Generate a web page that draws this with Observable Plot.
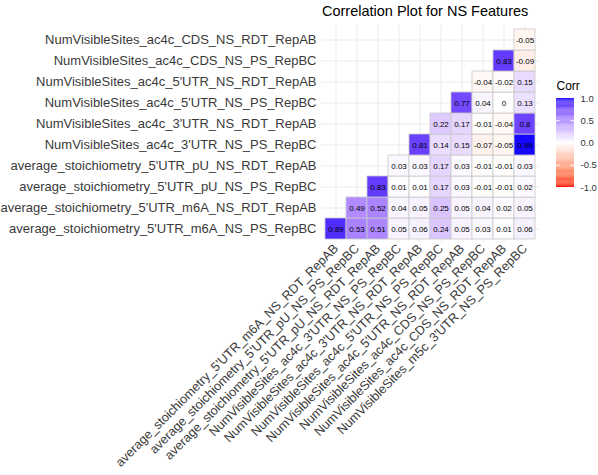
<!DOCTYPE html>
<html>
<head>
<meta charset="utf-8">
<script src="https://cdn.jsdelivr.net/npm/d3@7"></script>
<script src="https://cdn.jsdelivr.net/npm/@observablehq/plot@0.6"></script>
<style>
  body { margin: 0; background: #fff; font-family: "Liberation Sans", Arial, sans-serif; }
  #wrap { position: relative; width: 598px; height: 475px; overflow: hidden; }
  #title { height: 24px; width: 598px; font-size: 14.5px; color: #000; position: relative; }
  #title span { position: absolute; left: 322px; top: 3px; white-space: nowrap; }
  #legend { position: absolute; left: 548px; top: 80px; }
  #legend svg { overflow: visible; }
</style>
</head>
<body>
<div id="wrap">
  <div id="title"><span>Correlation Plot for NS Features</span></div>
  <div id="chart"></div>
  <div id="legend"></div>
</div>
<script>
const colLabels = [
  "average_stoichiometry_5'UTR_m6A_NS_RDT_RepAB",
  "average_stoichiometry_5'UTR_pU_NS_PS_RepBC",
  "average_stoichiometry_5'UTR_pU_NS_RDT_RepAB",
  "NumVisibleSites_ac4c_3'UTR_NS_PS_RepBC",
  "NumVisibleSites_ac4c_3'UTR_NS_RDT_RepAB",
  "NumVisibleSites_ac4c_5'UTR_NS_PS_RepBC",
  "NumVisibleSites_ac4c_5'UTR_NS_RDT_RepAB",
  "NumVisibleSites_ac4c_CDS_NS_PS_RepBC",
  "NumVisibleSites_ac4c_CDS_NS_RDT_RepAB",
  "NumVisibleSites_m5c_3'UTR_NS_PS_RepBC"
];
// bottom to top
const rowLabels = [
  "average_stoichiometry_5'UTR_m6A_NS_PS_RepBC",
  "average_stoichiometry_5'UTR_m6A_NS_RDT_RepAB",
  "average_stoichiometry_5'UTR_pU_NS_PS_RepBC",
  "average_stoichiometry_5'UTR_pU_NS_RDT_RepAB",
  "NumVisibleSites_ac4c_3'UTR_NS_PS_RepBC",
  "NumVisibleSites_ac4c_3'UTR_NS_RDT_RepAB",
  "NumVisibleSites_ac4c_5'UTR_NS_PS_RepBC",
  "NumVisibleSites_ac4c_5'UTR_NS_RDT_RepAB",
  "NumVisibleSites_ac4c_CDS_NS_PS_RepBC",
  "NumVisibleSites_ac4c_CDS_NS_RDT_RepAB"
];
// each row starts at the column with the same index as the row
const row0 = [0.89, 0.53, 0.51, 0.05, 0.06, 0.24, 0.05, 0.03, 0.01, 0.06];
const row1 = [0.49, 0.52, 0.04, 0.05, 0.25, 0.05, 0.04, 0.02, 0.05];
const row2 = [0.83, 0.01, 0.01, 0.17, 0.03, -0.01, -0.01, 0.02];
const row3 = [0.03, 0.03, 0.17, 0.03, -0.01, -0.01, 0.03];
const row4 = [0.81, 0.14, 0.15, -0.07, -0.05, 0.99];
const row5 = [0.22, 0.17, -0.01, -0.04, 0.8];
const row6 = [0.77, 0.04, 0, 0.13];
const row7 = [-0.04, -0.02, 0.15];
const row8 = [0.83, -0.09];
const row9 = [-0.05];
const legendTicks = [-1, -0.5, 0, 0.5, 1];
const legendTitle = "Corr";

const rows = [row0, row1, row2, row3, row4, row5, row6, row7, row8, row9];
const cells = [];
rows.forEach((vals, r) => vals.forEach((v, k) => cells.push({x: colLabels[r + k], y: rowLabels[r], v})));

const colorScale = {type: "linear", domain: [-1, 0, 1], range: ["red", "white", "blue"], interpolate: d3.interpolateLab};

const chart = Plot.plot({
  width: 598,
  height: 451,
  marginLeft: 323,
  marginRight: 61,
  marginTop: 3,
  marginBottom: 235,
  style: {fontFamily: "'Liberation Sans', Arial, sans-serif", fontSize: "13px", background: "#fff"},
  x: {domain: colLabels, padding: 0, label: null},
  y: {domain: rowLabels.slice().reverse(), padding: 0, label: null},
  color: colorScale,
  marks: [
    Plot.gridX({stroke: "#ebebeb", strokeOpacity: 1, insetTop: -2, insetBottom: -2}),
    Plot.gridY({stroke: "#ebebeb", strokeOpacity: 1, insetLeft: -2, insetRight: -2}),
    Plot.cell(cells, {x: "x", y: "y", fill: "v", stroke: "#c8c8c8", strokeWidth: 0.8}),
    Plot.text(cells, {x: "x", y: "y", text: d => String(d.v), fontSize: 8, fill: "#000"}),
    Plot.axisY({tickSize: 0, tickPadding: 7, fill: "#3a3a3a", fontSize: 13, label: null}),
    Plot.axisX({tickSize: 0, tickPadding: 6, tickRotate: -45, fill: "#3a3a3a", fontSize: 12.7, label: null})
  ]
});
document.getElementById("chart").appendChild(chart);

const stops = d3.range(-1, 1, 0.02);
const legend = Plot.plot({
  width: 50,
  height: 120,
  marginLeft: 8,
  marginRight: 24,
  marginTop: 18,
  marginBottom: 13,
  style: {fontFamily: "'Liberation Sans', Arial, sans-serif", fontSize: "10px", background: "transparent", overflow: "visible"},
  x: {domain: [0, 1], axis: null},
  y: {domain: [-1, 1], label: null},
  color: colorScale,
  marks: [
    Plot.rect(stops, {x1: 0, x2: 1, y1: d => d, y2: d => Math.min(1, d + 0.021), fill: d => d + 0.01}),
    Plot.ruleY(legendTicks.slice(1, 4), {y: d => d, x1: 0, x2: 0.2, stroke: "white", strokeWidth: 1}),
    Plot.ruleY(legendTicks.slice(1, 4), {y: d => d, x1: 0.8, x2: 1, stroke: "white", strokeWidth: 1}),
    Plot.axisY(legendTicks, {anchor: "right", tickSize: 0, tickPadding: 6, tickFormat: d => d.toFixed(1), fill: "#333", fontSize: 9.5, label: null}),
    Plot.text([legendTitle], {frameAnchor: "top-left", text: d => d, lineAnchor: "bottom", textAnchor: "start", dy: -9, fontSize: 12, fill: "#000"})
  ]
});
document.getElementById("legend").appendChild(legend);
</script>
</body>
</html>
